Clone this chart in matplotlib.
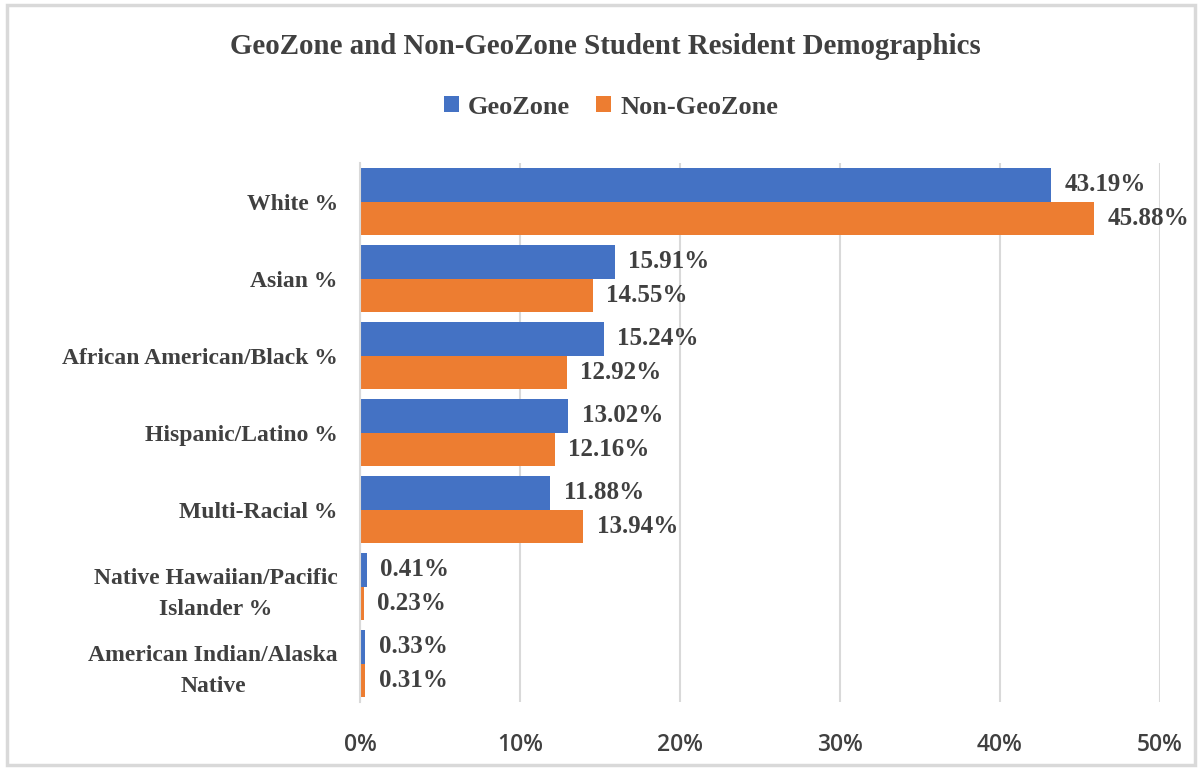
import matplotlib
matplotlib.use("Agg")
import matplotlib.pyplot as plt
from matplotlib.patches import Rectangle
from matplotlib.ticker import PercentFormatter

categories = [
    "White %",
    "Asian %",
    "African American/Black %",
    "Hispanic/Latino %",
    "Multi-Racial %",
    "Native Hawaiian/Pacific\nIslander %",
    "American Indian/Alaska\nNative",
]
geozone = [43.19, 15.91, 15.24, 13.02, 11.88, 0.41, 0.33]
non_geozone = [45.88, 14.55, 12.92, 12.16, 13.94, 0.23, 0.31]
series_names = ["GeoZone", "Non-GeoZone"]
x_ticks = [0, 10, 20, 30, 40, 50]

BLUE = "#4472C4"
ORANGE = "#ED7D31"
TEXT = "#404040"
SERIF = "Liberation Serif"

fig = plt.figure(figsize=(12.01, 7.69), dpi=100)
ax = fig.add_axes([360 / 1201, 1 - 702 / 769, 800 / 1201, 539 / 769])

# outer chart border
fig.patches.append(Rectangle((7 / 1201, 4 / 769), 1188 / 1201, 760 / 769,
                             transform=fig.transFigure, fill=False,
                             edgecolor="#D9D9D9", linewidth=2.5))

h = 0.43
pos = list(range(len(categories)))
b1 = ax.barh([p - h / 2 for p in pos], geozone, height=h, color=BLUE)
b2 = ax.barh([p + h / 2 for p in pos], non_geozone, height=h, color=ORANGE)

for bars, vals in ((b1, geozone), (b2, non_geozone)):
    for bar, v in zip(bars, vals):
        ax.text(v + 0.85, bar.get_y() + bar.get_height() / 2, f"{v:.2f}%",
                va="center", ha="left", fontsize=18, fontweight="bold",
                color=TEXT, family=SERIF)

ax.set_ylim(len(categories) - 0.5, -0.5)
ax.set_xlim(0, 50)
ax.set_yticks(pos)
ax.set_yticklabels(categories, fontsize=17, fontweight="bold", color=TEXT,
                   family=SERIF, linespacing=1.65)
for lbl in ax.get_yticklabels():
    lbl.set_multialignment("center")
ax.set_xticks(x_ticks)
ax.xaxis.set_major_formatter(PercentFormatter(decimals=0))
for lbl in ax.get_xticklabels():
    lbl.set_fontsize(16.5)
    lbl.set_family("Open Sans")
    lbl.set_fontweight("semibold")
    lbl.set_color(TEXT)
ax.tick_params(axis="both", length=0)
ax.tick_params(axis="x", pad=22)
ax.tick_params(axis="y", pad=16)

ax.grid(axis="x", color="#D9D9D9", linewidth=1.5)
ax.set_axisbelow(True)
for s in ("top", "right", "bottom"):
    ax.spines[s].set_visible(False)
ax.spines["left"].set_color("#D9D9D9")
ax.spines["left"].set_linewidth(1.5)

fig.text(605 / 1201, 1 - 47 / 769, "GeoZone and Non-GeoZone Student Resident Demographics",
         ha="center", va="center", fontsize=20.8, fontweight="bold",
         color=TEXT, family=SERIF)

leg = fig.legend([b1, b2], series_names, loc="center",
                 bbox_to_anchor=(611 / 1201, 1 - 107 / 769), ncol=2,
                 frameon=False, handlelength=0.55, handleheight=0.55,
                 handletextpad=0.35, columnspacing=1.0,
                 prop={"family": SERIF, "weight": "bold", "size": 19})
for t in leg.get_texts():
    t.set_color(TEXT)

fig.savefig("out.png", dpi=100)
